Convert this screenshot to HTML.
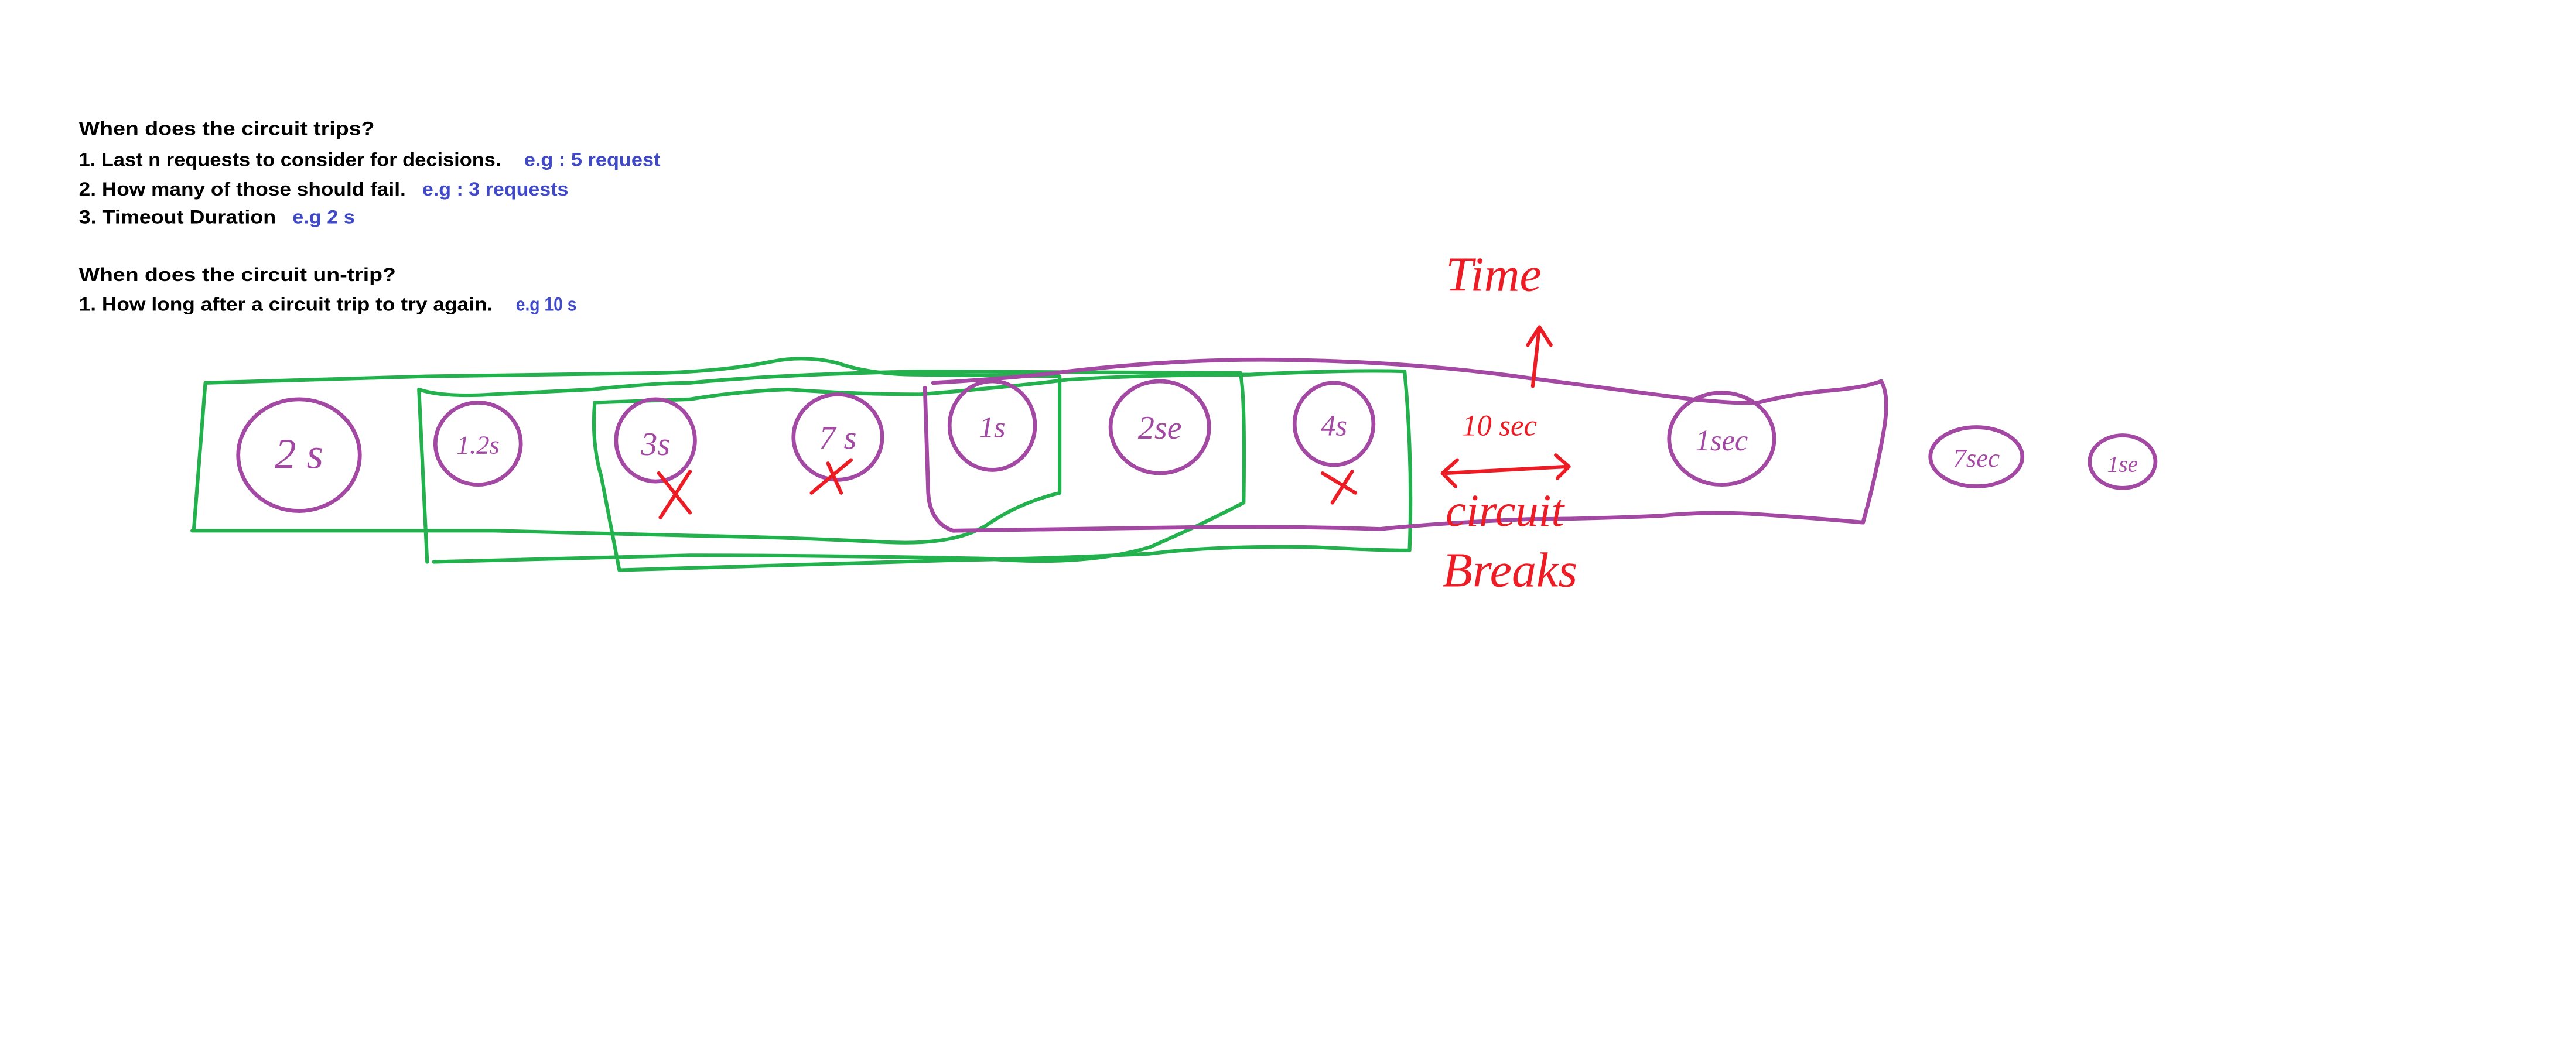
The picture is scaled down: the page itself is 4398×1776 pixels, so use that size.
<!DOCTYPE html>
<html><head><meta charset="utf-8"><style>
html,body{margin:0;padding:0;background:#fff;}
svg{display:block;}
</style></head><body>
<svg width="4398" height="1776" viewBox="0 0 1568 633" xmlns="http://www.w3.org/2000/svg">
<rect width="1568" height="633" fill="#fff"/>
<g font-family="Liberation Sans, sans-serif" font-weight="bold" font-size="11.5">
<text x="48" y="82" fill="#000" textLength="180" lengthAdjust="spacingAndGlyphs">When does the circuit trips?</text>
<text x="48" y="101" fill="#000" textLength="257" lengthAdjust="spacingAndGlyphs">1. Last  n requests to consider for decisions.</text>
<text x="319" y="101" fill="#4049c8" textLength="83" lengthAdjust="spacingAndGlyphs">e.g : 5 request</text>
<text x="48" y="119" fill="#000" textLength="199" lengthAdjust="spacingAndGlyphs">2. How many of those should fail.</text>
<text x="257" y="119" fill="#4049c8" textLength="89" lengthAdjust="spacingAndGlyphs">e.g : 3 requests</text>
<text x="48" y="136" fill="#000" textLength="120" lengthAdjust="spacingAndGlyphs">3. Timeout Duration</text>
<text x="178" y="136" fill="#4049c8" textLength="38" lengthAdjust="spacingAndGlyphs">e.g 2 s</text>
<text x="48" y="171" fill="#000" textLength="193" lengthAdjust="spacingAndGlyphs">When does the circuit un-trip?</text>
<text x="48" y="189" fill="#000" textLength="252" lengthAdjust="spacingAndGlyphs">1. How long after a circuit trip to try again.</text>
<text x="314" y="189" fill="#4049c8" textLength="37" lengthAdjust="spacingAndGlyphs">e.g 10 s</text>
</g>
<g fill="none" stroke="#22b14c" stroke-width="2.2" stroke-linecap="round" stroke-linejoin="round">
<path d="M125,233 L260,229 L400,227 Q440,226 470,220 Q490,216 510,221 Q530,228 560,228 L645,229 L645,300 Q620,306 600,320 Q580,332 540,330 Q480,327 420,326 L300,323 L117,323 M125,233 L118,322"/>
<path d="M255,237 Q270,242 300,240 L360,237 Q400,233 420,233 Q470,228 560,226 L755,227 Q758,240 757,306 Q730,320 700,333 Q660,345 600,340 Q500,338 420,338 L264,342 M255,237 L260,342"/>
<path d="M362,245 L420,243 Q450,238 480,237 Q520,240 560,240 Q620,235 650,231 Q700,228 760,228 Q820,225 855,226 Q860,280 858,335 Q840,335 800,333 Q740,332 700,337 Q640,340 580,341 L377,347 M362,245 Q360,270 366,290 L377,347"/>
</g>
<g fill="none" stroke="#a349a4" stroke-width="2.4" stroke-linecap="round" stroke-linejoin="round">
<path d="M568,233 Q620,230 650,226 Q720,218 780,219 Q860,220 930,230 Q990,238 1030,243 Q1060,246 1070,245 Q1090,240 1110,238 Q1135,236 1145,232 Q1150,240 1147,260 Q1142,290 1134,318 Q1100,315 1070,313 Q1040,311 1010,314 Q960,316 930,316 Q880,318 840,322 Q780,320 720,321 Q640,322 580,323 Q566,318 565,300 L563,236"/>
<ellipse cx="182" cy="277" rx="37" ry="34"/>
<ellipse cx="291" cy="270" rx="26" ry="25"/>
<ellipse cx="399" cy="268" rx="24" ry="25"/>
<ellipse cx="510" cy="266" rx="27" ry="26"/>
<ellipse cx="604" cy="259" rx="26" ry="27"/>
<ellipse cx="706" cy="260" rx="30" ry="28"/>
<ellipse cx="812" cy="258" rx="24" ry="25"/>
<ellipse cx="1048" cy="267" rx="32" ry="28"/>
<ellipse cx="1203" cy="278" rx="28" ry="18"/>
<ellipse cx="1292" cy="281" rx="20" ry="16"/>
</g>
<g font-family="Liberation Serif, serif" font-style="italic" fill="#a349a4">
<text x="182" y="285" font-size="26" text-anchor="middle">2 s</text>
<text x="291" y="276" font-size="16" text-anchor="middle">1.2s</text>
<text x="399" y="277" font-size="20" text-anchor="middle">3s</text>
<text x="510" y="273" font-size="20" text-anchor="middle">7 s</text>
<text x="604" y="266" font-size="18" text-anchor="middle">1s</text>
<text x="706" y="267" font-size="20" text-anchor="middle">2se</text>
<text x="812" y="265" font-size="18" text-anchor="middle">4s</text>
<text x="1048" y="274" font-size="18" text-anchor="middle">1sec</text>
<text x="1203" y="284" font-size="16" text-anchor="middle">7sec</text>
<text x="1292" y="287" font-size="14" text-anchor="middle">1se</text>
</g>
<g fill="none" stroke="#ed1c24" stroke-width="2.2" stroke-linecap="round" stroke-linejoin="round">
<path d="M401,288 L420,312 M420,287 L402,315"/>
<path d="M494,300 L518,280 M504,282 L512,300"/>
<path d="M805,288 L825,300 M823,287 L811,306"/>
<path d="M933,235 L937,199 M930,210 L937,199 L944,210"/>
<path d="M880,288 L954,284 M887,280 L878,288 L886,296 M947,277 L955,284 L948,291"/>
</g>
<g font-family="Liberation Serif, serif" font-style="italic" fill="#ed1c24">
<text x="880" y="177" font-size="30">Time</text>
<text x="890" y="265" font-size="18">10 sec</text>
<text x="880" y="320" font-size="28">circuit</text>
<text x="878" y="357" font-size="30">Breaks</text>
</g>
</svg>
</body></html>
